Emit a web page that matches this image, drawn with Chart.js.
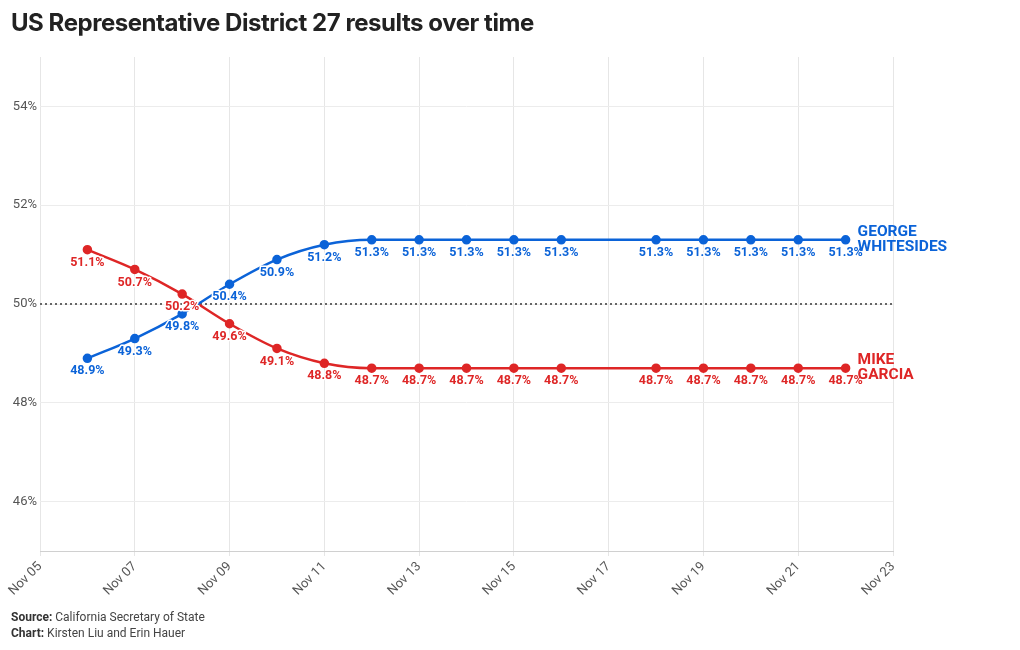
<!DOCTYPE html>
<html>
<head>
<meta charset="utf-8">
<script src="https://cdn.jsdelivr.net/npm/chart.js@4.4.1/dist/chart.umd.min.js"></script>
<style>
  html, body { margin: 0; padding: 0; background: #fff; }
  #wrap { position: relative; width: 1020px; height: 650px; overflow: hidden; }
  #chart { position: absolute; left: 0; top: 0; }
  h1 {
    position: absolute; left: 11px; top: 8px; margin: 0;
    font: 700 24px Inter, "Liberation Sans", sans-serif; letter-spacing: -0.45px; color: #222;
  }
  .foot {
    position: absolute; left: 11px; font: 12px Roboto, sans-serif; color: #444;
  }
  .foot b { color: #333; }
</style>
</head>
<body>
<div id="wrap">
  <canvas id="chart" width="1020" height="650"></canvas>
  <h1>US Representative District 27 results over time</h1>
  <div class="foot" style="top:610px"><b>Source:</b> California Secretary of State</div>
  <div class="foot" style="top:626px"><b>Chart:</b> Kirsten Liu and Erin Hauer</div>
</div>
<script>
// ========== Data ==========
const days = [6, 7, 8, 9, 10, 11, 12, 13, 14, 15, 16, 18, 19, 20, 21, 22];
const whitesides = [48.9, 49.3, 49.8, 50.4, 50.9, 51.2, 51.3, 51.3, 51.3, 51.3, 51.3, 51.3, 51.3, 51.3, 51.3, 51.3];
const garcia = [51.1, 50.7, 50.2, 49.6, 49.1, 48.8, 48.7, 48.7, 48.7, 48.7, 48.7, 48.7, 48.7, 48.7, 48.7, 48.7];
const xTicks = [5, 7, 9, 11, 13, 15, 17, 19, 21, 23];
const yTicks = [46, 48, 50, 52, 54];
const names = [["GEORGE", "WHITESIDES"], ["MIKE", "GARCIA"]];

const BLUE = "#0b63d8";
const RED = "#de2626";

function toPoints(vals) {
  return days.map((d, i) => ({ x: d, y: vals[i] }));
}

// ========== Labels under points + names at line ends ==========
const labelPlugin = {
  id: "labels",
  afterDatasetsDraw(chart) {
    const ctx = chart.ctx;
    ctx.save();
    chart.data.datasets.forEach((ds, di) => {
      const meta = chart.getDatasetMeta(di);
      ctx.font = "bold 12.5px Roboto, sans-serif";
      ctx.textAlign = "center";
      ctx.textBaseline = "middle";
      ctx.lineJoin = "round";
      meta.data.forEach((pt, i) => {
        const txt = ds.data[i].y.toFixed(1) + "%";
        ctx.strokeStyle = "#fff";
        ctx.lineWidth = 3;
        ctx.strokeText(txt, pt.x, pt.y + 13);
        ctx.fillStyle = ds.borderColor;
        ctx.fillText(txt, pt.x, pt.y + 13);
      });
      const last = meta.data[meta.data.length - 1];
      ctx.font = "bold 15.5px Roboto, sans-serif";
      ctx.textAlign = "left";
      ctx.fillStyle = ds.borderColor;
      ctx.fillText(names[di][0], last.x + 12, last.y - 8);
      ctx.fillText(names[di][1], last.x + 12, last.y + 7);
    });
    ctx.restore();
  }
};

// dotted 50% line, drawn under the series
const fiftyLine = {
  id: "fifty",
  beforeDatasetsDraw(chart) {
    const { ctx, chartArea, scales } = chart;
    const y = scales.y.getPixelForValue(50);
    ctx.save();
    ctx.strokeStyle = "#666";
    ctx.lineWidth = 2;
    ctx.setLineDash([2, 3]);
    ctx.beginPath();
    ctx.moveTo(chartArea.left, y);
    ctx.lineTo(chartArea.right, y);
    ctx.stroke();
    ctx.restore();
  }
};

new Chart(document.getElementById("chart"), {
  type: "line",
  data: {
    datasets: [
      {
        label: "George Whitesides",
        data: toPoints(whitesides),
        borderColor: BLUE,
        backgroundColor: BLUE,
        borderWidth: 2.5,
        pointRadius: 3.5,
        cubicInterpolationMode: "monotone"
      },
      {
        label: "Mike Garcia",
        data: toPoints(garcia),
        borderColor: RED,
        backgroundColor: RED,
        borderWidth: 2.5,
        pointRadius: 3.5,
        cubicInterpolationMode: "monotone"
      }
    ]
  },
  options: {
    responsive: false,
    animation: false,
    layout: { padding: { top: 57, right: 127, bottom: 0, left: 0 } },
    plugins: { legend: { display: false }, tooltip: { enabled: false } },
    scales: {
      x: {
        type: "linear",
        min: 5,
        max: 23,
        afterBuildTicks: s => { s.ticks = xTicks.map(v => ({ value: v })); },
        afterFit: s => { s.height = 99; },
        grid: { color: "#e6e6e6", tickLength: 5 },
        border: { color: "#d0d0d0" },
        ticks: {
          autoSkip: false,
          minRotation: 45,
          maxRotation: 45,
          color: "#555",
          font: { family: "Roboto", size: 13 },
          callback: v => "Nov " + String(v).padStart(2, "0")
        }
      },
      y: {
        min: 45,
        max: 55,
        afterBuildTicks: s => { s.ticks = yTicks.map(v => ({ value: v })); },
        afterFit: s => { s.width = 40; },
        grid: { color: "#ececec", drawTicks: false },
        border: { display: false },
        ticks: {
          color: "#555",
          padding: 3,
          font: { family: "Roboto", size: 13 },
          callback: v => v + "%"
        }
      }
    }
  },
  plugins: [fiftyLine, labelPlugin]
});
</script>
</body>
</html>
